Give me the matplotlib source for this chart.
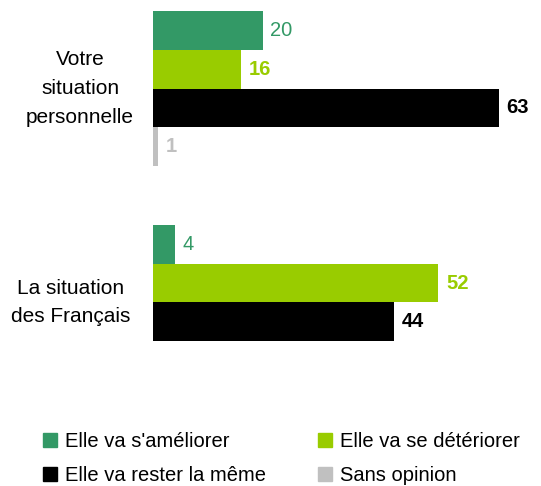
import matplotlib.pyplot as plt
import matplotlib.transforms as mtransforms
from matplotlib.patches import Patch

plt.rcParams['font.family'] = ['Liberation Sans', 'DejaVu Sans']

groups = ["Votre\nsituation\npersonnelle", "La situation\ndes Français"]
series = ["Elle va s'améliorer", "Elle va se détériorer", "Elle va rester la même", "Sans opinion"]
colors = ["#339966", "#99cc00", "#000000", "#c0c0c0"]
values = [
    [20, 4],   # s'améliorer
    [16, 52],  # se détériorer
    [63, 44],  # rester la même
    [1, None], # sans opinion
]
label_weight = ["normal", "bold", "bold", "bold"]

fig = plt.figure(figsize=(5.41, 4.86), dpi=100)
ax = fig.add_axes([153/541, 1 - 380/486, 384/541, 369/486])

gstep = 5.52
fs = 14.5
for i, name in enumerate(series):
    for g in range(len(groups)):
        v = values[i][g]
        if v is None:
            continue
        y = g * gstep + i + 0.5
        ax.barh(y, v, height=1.0, color=colors[i])
        ax.annotate(str(v), (v, y), xytext=(5.5, 0), textcoords="offset points",
                    va="center", ha="left", fontsize=fs, color=colors[i],
                    fontweight=label_weight[i])

ax.set_xlim(0, 70)
ax.set_ylim(gstep + 4, 0)
ax.axis("off")

# category labels sit left of the bars, centred on each group
trans = mtransforms.blended_transform_factory(fig.transFigure, ax.transData)
label_x = [80, 71]
for g, txt in enumerate(groups):
    ax.text(label_x[g] / 541, g * gstep + 2, txt, transform=trans,
            ha="center", va="center", fontsize=15, linespacing=1.65)

handles = [Patch(color=colors[k], label=series[k]) for k in [0, 2, 1, 3]]
fig.legend(handles=handles, ncol=2, loc="center left", bbox_to_anchor=(43/541, 1 - 458.5/486),
           frameon=False, fontsize=fs, handlelength=0.7, handleheight=0.7,
           handletextpad=0.4, columnspacing=2.55, labelspacing=0.78,
           borderpad=0, borderaxespad=0)

fig.savefig("out.png")
